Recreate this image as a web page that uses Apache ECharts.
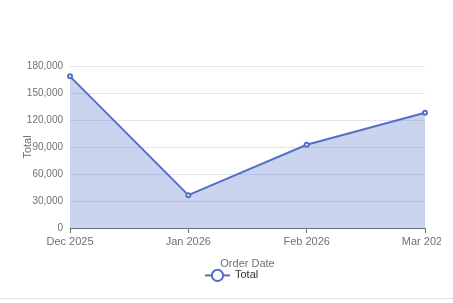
<!DOCTYPE html>
<html>
<head>
<meta charset="utf-8">
<script src="https://cdn.jsdelivr.net/npm/echarts@6/dist/echarts.min.js"></script>
<style>
  html, body { margin: 0; padding: 0; background: #fff; }
  #wrap { width: 453px; height: 298px; border-bottom: 1px solid #e0e0e0; overflow: hidden; }
  #chart { width: 441px; height: 298px; }
</style>
</head>
<body>
<div id="wrap"><div id="chart"></div></div>
<script>
// order totals per month
const months = ['Dec 2025', 'Jan 2026', 'Feb 2026', 'Mar 2026'];
const totals = [168500, 36500, 92500, 128000];
const yTicks = [0, 30000, 60000, 90000, 120000, 150000, 180000];

const chart = echarts.init(document.getElementById('chart'));
chart.setOption({
  textStyle: { fontFamily: 'Liberation Sans, Arial, sans-serif' },
  grid: { left: 70, right: 16, top: 66, bottom: 70, outerBoundsMode: 'none', containLabel: false },
  legend: {
    data: ['Total'],
    left: 199,
    bottom: 11,
    itemWidth: 25,
    itemHeight: 14,
    itemGap: 6,
    textStyle: { fontSize: 11, color: '#333' }
  },
  xAxis: {
    type: 'category',
    data: months,
    boundaryGap: false,
    name: 'Order Date',
    nameLocation: 'middle',
    nameGap: 30,
    nameMoveOverlap: false,
    nameTextStyle: { color: '#6e7079', fontSize: 11 },
    axisLabel: { fontSize: 11, color: '#6e7079', margin: 8 },
    axisLine: { lineStyle: { color: '#6e7079' } },
    axisTick: { alignWithLabel: true }
  },
  yAxis: {
    type: 'value',
    min: yTicks[0],
    max: yTicks[yTicks.length - 1],
    interval: yTicks[1] - yTicks[0],
    name: 'Total',
    nameLocation: 'middle',
    nameGap: 37,
    nameMoveOverlap: false,
    nameTextStyle: { color: '#6e7079', fontSize: 11 },
    axisLabel: {
      fontSize: 10,
      color: '#6e7079',
      margin: 7,
      formatter: v => v.toLocaleString('en-US')
    },
    splitLine: { lineStyle: { color: '#e0e6f1' } }
  },
  series: [{
    name: 'Total',
    type: 'line',
    data: totals,
    symbol: 'emptyCircle',
    symbolSize: 4,
    lineStyle: { color: '#5470c6', width: 2 },
    itemStyle: { color: '#5470c6' },
    areaStyle: { color: '#5470c6', opacity: 0.3 }
  }]
});
</script>
</body>
</html>
